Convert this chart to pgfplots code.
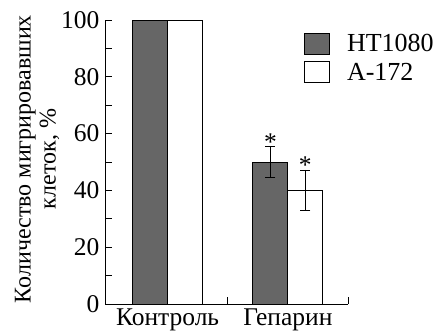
\documentclass[border=0pt]{standalone}
\usepackage{fontspec}
\setmainfont{Liberation Serif}
\usepackage{pgfplots}
\pgfplotsset{compat=1.18}
\definecolor{darkbar}{HTML}{666666}
\begin{document}
\begin{tikzpicture}[font=\rmfamily\fontsize{25.5}{27}\selectfont]
\begin{axis}[
  scale only axis,
  width=243pt, height=284pt,
  at={(0,0)}, anchor=south west,
  xmin=-0.52, xmax=1.5,
  ymin=0, ymax=100,
  axis lines*=left,
  axis line style={-, line width=0.8pt},
  ybar=0pt, bar width=35pt,
  xtick={0,1},
  xticklabels={Контроль,Гепарин},
  minor xtick={0.5,1.5},
  major x tick style={draw=none},
  ytick={0,20,40,60,80,100},
  minor ytick={10,30,50,70,90},
  tick align=inside,
  major tick length=7pt, minor tick length=7pt,
  tick style={line width=0.8pt, black},
  tick label style={font=\rmfamily\fontsize{25.5}{27}\selectfont},
  yticklabel style={xshift=-2pt},
  xticklabel style={yshift=-1pt},
  /pgf/number format/assume math mode=true,
  ylabel={Количество мигрировавших\\клеток, \%},
  ylabel style={align=center, font=\rmfamily\fontsize{24}{25}\selectfont, yshift=-5pt, xshift=3pt},
  legend style={at={(199pt,272pt)}, anchor=north west, draw=none, fill=none,
    row sep=6pt, font=\rmfamily\fontsize{26}{27}\selectfont, inner sep=0pt},
  legend cell align=left,
  legend image code/.code={\draw[#1, line width=0.8pt] (0pt,-10.5pt) rectangle (25pt,10.5pt);},
  clip=false,
]
\addplot[fill=darkbar, draw=black, line width=0.8pt,
  error bars/.cd, y dir=both, y explicit,
  error bar style={line width=0.8pt, black},
  error mark options={rotate=90, mark size=5pt, line width=0.8pt, black}]
  coordinates {(0,100) +- (0,0) (1,50) +- (0,5.5)};
\addplot[fill=white, draw=black, line width=0.8pt,
  error bars/.cd, y dir=both, y explicit,
  error bar style={line width=0.8pt, black},
  error mark options={rotate=90, mark size=5pt, line width=0.8pt, black}]
  coordinates {(0,100) +- (0,0) (1,40) +- (0,7.2)};
\legend{\hspace{15pt}HT1080,\hspace{15pt}A-172}
\node at (axis cs:0.855,57) {*};
\node at (axis cs:1.145,49) {*};
\end{axis}
\pgfresetboundingbox
\useasboundingbox (-105pt,-29pt) rectangle (333pt,304pt);
\end{tikzpicture}
\end{document}
